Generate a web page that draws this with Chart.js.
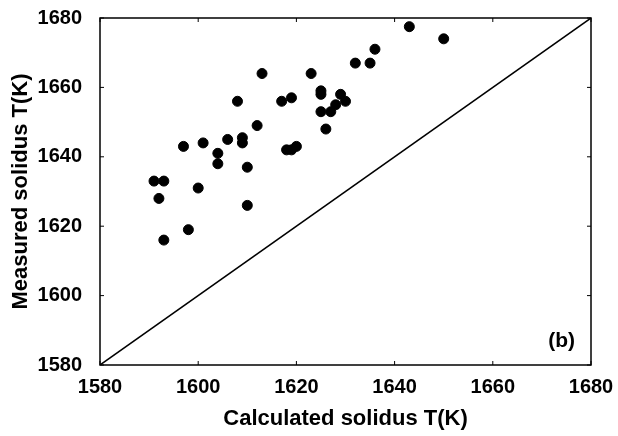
<!DOCTYPE html>
<html>
<head>
<meta charset="utf-8">
<script src="https://cdn.jsdelivr.net/npm/chart.js@4/dist/chart.umd.min.js"></script>
<style>
  html, body { margin: 0; padding: 0; background: #fff; }
  #wrap { width: 618px; height: 436px; }
</style>
</head>
<body>
<div id="wrap"><canvas id="c" width="618" height="436"></canvas></div>
<script>
// Calculated solidus T (K)
const calcT = [1591, 1593, 1592, 1593, 1597, 1598, 1600, 1601, 1604, 1604,
               1606, 1608, 1609, 1609, 1610, 1610, 1612, 1613, 1617, 1618,
               1619, 1619, 1620, 1623, 1625, 1625, 1625, 1626, 1627, 1628,
               1629, 1630, 1632, 1635, 1636, 1643, 1650];
// Measured solidus T (K)
const measT = [1633, 1633, 1628, 1616, 1643, 1619, 1631, 1644, 1641, 1638,
               1645, 1656, 1645.5, 1644, 1637, 1626, 1649, 1664, 1656, 1642,
               1642, 1657, 1643, 1664, 1659, 1658, 1653, 1648, 1653, 1655,
               1658, 1656, 1667, 1667, 1671, 1677.5, 1674];
// y = x reference line
const lineX = [1580, 1680];
const lineY = [1580, 1680];
const tickValues = [1580, 1600, 1620, 1640, 1660, 1680];
const panelLabel = '(b)';
const panelLabelPos = [1674, 1587];

const FONT = "'Liberation Sans', Arial, Helvetica, sans-serif";

const framePlugin = {
  id: 'frame',
  afterDraw(chart) {
    const ctx = chart.ctx;
    const a = chart.chartArea;
    const xs = chart.scales.x, ys = chart.scales.y;
    ctx.save();
    ctx.strokeStyle = '#000';
    ctx.lineWidth = 1.5;
    ctx.strokeRect(a.left, a.top, a.right - a.left, a.bottom - a.top);
    ctx.lineWidth = 1;
    const tl = 4;
    tickValues.forEach(v => {
      const px = xs.getPixelForValue(v);
      ctx.beginPath();
      ctx.moveTo(px, a.bottom); ctx.lineTo(px, a.bottom - tl);
      ctx.moveTo(px, a.top); ctx.lineTo(px, a.top + tl);
      ctx.stroke();
      const py = ys.getPixelForValue(v);
      ctx.beginPath();
      ctx.moveTo(a.left, py); ctx.lineTo(a.left + tl, py);
      ctx.moveTo(a.right, py); ctx.lineTo(a.right - tl, py);
      ctx.stroke();
    });
    ctx.fillStyle = '#000';
    ctx.font = 'bold 21px ' + FONT;
    ctx.textAlign = 'center';
    ctx.textBaseline = 'middle';
    ctx.fillText(panelLabel, xs.getPixelForValue(panelLabelPos[0]), ys.getPixelForValue(panelLabelPos[1]));
    ctx.restore();
  }
};

const tickFont = { family: FONT, size: 20, weight: 'bold' };
const titleFont = { family: FONT, size: 22, weight: 'bold' };

function zeroPad(s) {
  s.paddingTop = 0; s.paddingBottom = 0; s.paddingLeft = 0; s.paddingRight = 0;
}

new Chart(document.getElementById('c'), {
  type: 'scatter',
  data: {
    datasets: [
      {
        label: 'data',
        data: calcT.map((x, i) => ({ x: x, y: measT[i] })),
        backgroundColor: '#000',
        borderColor: '#000',
        pointRadius: 5,
        pointHoverRadius: 5,
        order: 1
      },
      {
        type: 'line',
        label: 'y=x',
        data: lineX.map((x, i) => ({ x: x, y: lineY[i] })),
        borderColor: '#000',
        borderWidth: 1.5,
        pointRadius: 0,
        fill: false,
        order: 2
      }
    ]
  },
  options: {
    responsive: false,
    animation: false,
    devicePixelRatio: 1,
    layout: { padding: { left: 0, top: 18, right: 27, bottom: 0 } },
    plugins: { legend: { display: false }, tooltip: { enabled: false } },
    scales: {
      x: {
        type: 'linear', min: 1580, max: 1680,
        afterBuildTicks: s => { s.ticks = tickValues.map(v => ({ value: v })); },
        afterFit: s => { s.height = 71; zeroPad(s); },
        grid: { display: false, drawTicks: false },
        border: { display: false },
        ticks: { color: '#000', padding: 10, maxRotation: 0, font: tickFont, callback: v => String(v) },
        title: { display: true, text: 'Calculated solidus T(K)', color: '#000',
                 font: titleFont, padding: { top: 0, bottom: 4 } }
      },
      y: {
        type: 'linear', min: 1580, max: 1680,
        afterBuildTicks: s => { s.ticks = tickValues.map(v => ({ value: v })); },
        afterFit: s => { s.width = 100; zeroPad(s); },
        grid: { display: false, drawTicks: false },
        border: { display: false },
        ticks: { color: '#000', padding: 18, font: tickFont, callback: v => String(v) },
        title: { display: true, text: 'Measured solidus T(K)', color: '#000',
                 font: titleFont, padding: { top: 8, bottom: 0 } }
      }
    }
  },
  plugins: [framePlugin]
});
</script>
</body>
</html>
